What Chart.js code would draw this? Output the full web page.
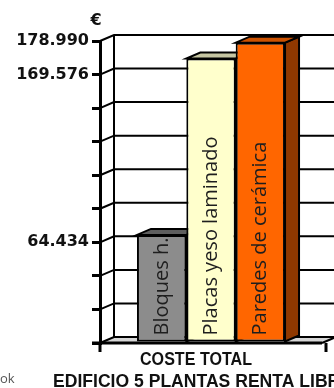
<!DOCTYPE html>
<html>
<head>
<meta charset="utf-8">
<script src="https://cdn.jsdelivr.net/npm/chart.js@4"></script>
<style>
  html, body { margin: 0; padding: 0; background: #fff; }
  #wrap { width: 334px; height: 388px; position: relative; }
</style>
</head>
<body>
<div id="wrap"><canvas id="c" width="334" height="388"></canvas></div>
<script>
const categories = ['COSTE TOTAL'];
const seriesNames = ['Bloques h.', 'Placas yeso laminado', 'Paredes de cerámica'];
const seriesValues = [64434, 169576, 178990];
const tickLabelValues = [60000, 160000, 180000];
const tickLabelTexts = ['64.434', '169.576', '178.990'];
const axisMax = 180000;
const axisStep = 20000;
const unitLabel = '€';
const titleLines = ['COSTE TOTAL', 'EDIFICIO 5 PLANTAS RENTA LIBRE'];
const cornerText = 'ok';

const frontColors = ['#8c8c8c', '#ffffcc', '#ff6600'];
const topColors = ['#5e5e5e', '#c6c6a2', '#cc5200'];
const sideColors = ['#5a5a5a', '#b8b890', '#8f3800'];

const DX = 14, DY = -6;

function poly(ctx, pts, fill, stroke, lw) {
  ctx.beginPath();
  ctx.moveTo(pts[0][0], pts[0][1]);
  for (let i = 1; i < pts.length; i++) ctx.lineTo(pts[i][0], pts[i][1]);
  ctx.closePath();
  if (fill) { ctx.fillStyle = fill; ctx.fill(); }
  if (stroke) { ctx.strokeStyle = stroke; ctx.lineWidth = lw; ctx.lineJoin = 'miter'; ctx.stroke(); }
}

function fitText(ctx, text, x, y, targetW, align) {
  const w = ctx.measureText(text).width;
  const s = targetW / w;
  ctx.save();
  ctx.textAlign = 'left';
  const left = align === 'center' ? x - targetW / 2 : x;
  ctx.translate(left, y);
  ctx.scale(s, 1);
  ctx.fillText(text, 0, 0);
  ctx.restore();
}

const threeD = {
  id: 'threeD',
  beforeDatasetsDraw(chart) {
    const { ctx, chartArea: a, scales: { y } } = chart;
    ctx.save();
    poly(ctx, [[a.left, a.bottom], [a.right, a.bottom], [a.right + DX, a.bottom + DY], [a.left + DX, a.bottom + DY]], '#d6d6d6', null, 0);
    ctx.strokeStyle = '#000';
    ctx.lineWidth = 2;
    y.ticks.forEach(t => {
      const py = y.getPixelForValue(t.value);
      ctx.beginPath();
      ctx.moveTo(a.left, py);
      ctx.lineTo(a.left + DX, py + DY);
      ctx.lineTo(a.right + DX + 6, py + DY);
      ctx.stroke();
    });
    ctx.beginPath();
    ctx.moveTo(a.left + DX, y.getPixelForValue(axisMax) + DY);
    ctx.lineTo(a.left + DX, a.bottom + DY);
    ctx.stroke();
    ctx.beginPath();
    ctx.moveTo(a.right, a.bottom);
    ctx.lineTo(a.right + DX, a.bottom + DY);
    ctx.stroke();
    chart.data.datasets.forEach((ds, i) => {
      const meta = chart.getDatasetMeta(i);
      meta.data.forEach(bar => {
        const p = bar.getProps(['x', 'y', 'width', 'base'], true);
        const l = p.x - p.width / 2, r = p.x + p.width / 2, t = p.y, b = p.base;
        poly(ctx, [[r, b], [r, t], [r + DX, t + DY], [r + DX, b + DY]], sideColors[i], '#000', 2);
        poly(ctx, [[l, t], [r, t], [r + DX, t + DY], [l + DX, t + DY]], topColors[i], '#000', 2);
      });
    });
    ctx.restore();
  },
  afterDatasetsDraw(chart) {
    const { ctx, chartArea: a } = chart;
    ctx.save();
    ctx.strokeStyle = '#000';
    ctx.lineWidth = 3;
    ctx.beginPath();
    ctx.moveTo(a.left - 8, a.bottom);
    ctx.lineTo(a.right, a.bottom);
    ctx.moveTo(a.left, a.bottom);
    ctx.lineTo(a.left, a.bottom + 9);
    ctx.moveTo(a.right + 4, a.bottom);
    ctx.lineTo(a.right + 4, a.bottom + 9);
    ctx.stroke();
    chart.data.datasets.forEach((ds, i) => {
      const meta = chart.getDatasetMeta(i);
      meta.data.forEach(bar => {
        const p = bar.getProps(['x', 'y', 'width', 'base'], true);
        ctx.save();
        ctx.translate(p.x + 6, p.base - 6);
        ctx.rotate(-Math.PI / 2);
        ctx.font = '20px "Open Sans"';
        ctx.fillStyle = '#1e1e1e';
        ctx.textAlign = 'left';
        ctx.textBaseline = 'alphabetic';
        ctx.fillText(ds.label, 0, 0);
        ctx.restore();
      });
    });
    ctx.restore();
  },
  afterDraw(chart) {
    const { ctx, chartArea: a } = chart;
    ctx.save();
    ctx.fillStyle = '#111';
    ctx.font = 'bold 16px "DejaVu Sans"';
    ctx.textAlign = 'center';
    ctx.textBaseline = 'alphabetic';
    ctx.fillText(unitLabel, a.left - 4, 25);
    ctx.font = 'bold 18px "Liberation Sans"';
    fitText(ctx, titleLines[0], 196, 365, 112, 'center');
    ctx.font = 'bold 18px "Liberation Sans"';
    fitText(ctx, titleLines[1], 53, 387, 299, 'left');
    ctx.fillStyle = '#555';
    ctx.font = '13px "Open Sans"';
    ctx.textAlign = 'left';
    ctx.fillText(cornerText, 0, 383);
    ctx.restore();
  }
};

new Chart(document.getElementById('c'), {
  type: 'bar',
  data: {
    labels: categories,
    datasets: seriesNames.map((name, i) => ({
      label: name,
      data: [seriesValues[i]],
      backgroundColor: frontColors[i],
      borderColor: '#000',
      borderWidth: 2,
      borderSkipped: false,
      categoryPercentage: 0.667,
      barPercentage: 1.0
    }))
  },
  options: {
    responsive: false,
    animation: false,
    devicePixelRatio: 1,
    layout: { padding: { top: 41, bottom: 45, left: 0, right: 12 } },
    plugins: { legend: { display: false }, tooltip: { enabled: false }, title: { display: false } },
    scales: {
      x: { display: false },
      y: {
        min: 0,
        max: axisMax,
        afterFit(scale) { scale.width = 100; },
        ticks: {
          stepSize: axisStep,
          autoSkip: false,
          padding: 3,
          color: '#111',
          font: { family: 'DejaVu Sans', weight: 'bold', size: 16 },
          callback(value) {
            const k = tickLabelValues.indexOf(value);
            return k >= 0 ? tickLabelTexts[k] : '';
          }
        },
        grid: { drawOnChartArea: false, drawTicks: true, tickLength: 8, lineWidth: 3, color: '#000' },
        border: { display: true, width: 3, color: '#000' }
      }
    }
  },
  plugins: [threeD]
});
</script>
</body>
</html>
